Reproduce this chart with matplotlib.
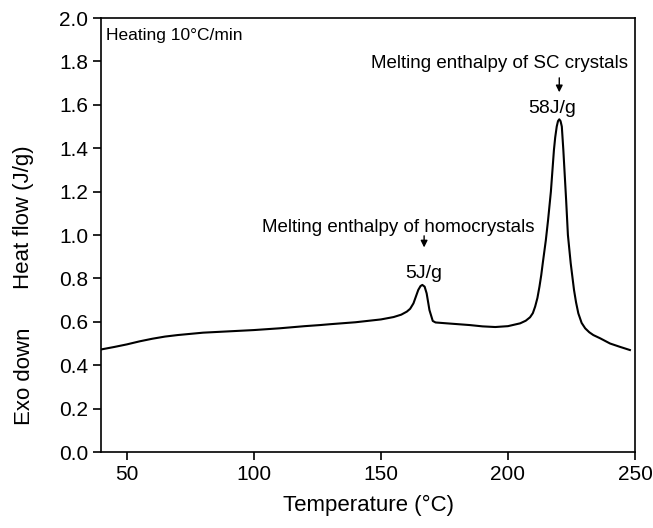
import numpy as np
import matplotlib.pyplot as plt

plt.rcParams['font.family'] = ['Liberation Sans', 'DejaVu Sans']

# DSC heating curve
temperature = [40, 45, 50, 55, 60, 65, 70, 80, 90, 100,
               110, 120, 126, 130, 140, 150, 155, 158, 160.2, 161.5,
               162.8, 164.7, 165.6, 166.3, 167.2, 168, 169.1, 170.4, 171.5, 175.9,
               185, 190, 195, 200, 204.8, 207, 208.7, 209.8, 210.7, 211.6,
               212.4, 213.1, 213.7, 214.9, 215.8, 216.9, 218.1, 218.6, 219.2, 219.7,
               220.2, 220.7, 221.2, 221.8, 222.9, 223.6, 224.7, 226, 226.8, 227.7,
               229, 230.4, 232, 233.6, 236.3, 240.2, 244, 248]
heat_flow = [0.473, 0.484, 0.496, 0.51, 0.522, 0.532, 0.539, 0.55, 0.556, 0.562,
             0.57, 0.58, 0.585, 0.589, 0.598, 0.611, 0.622, 0.633, 0.647, 0.660,
             0.685, 0.747, 0.765, 0.77, 0.762, 0.731, 0.654, 0.604, 0.597, 0.593,
             0.585, 0.579, 0.576, 0.580, 0.593, 0.605, 0.621, 0.64, 0.670, 0.71,
             0.762, 0.815, 0.87, 0.975, 1.07, 1.2, 1.392, 1.45, 1.5, 1.525,
             1.533, 1.525, 1.5, 1.392, 1.161, 1.0, 0.87, 0.747, 0.69, 0.639,
             0.595, 0.57, 0.552, 0.539, 0.524, 0.50, 0.485, 0.47]

x_ticks = [50, 100, 150, 200, 250]
y_ticks = np.arange(0, 2.01, 0.2)

fig = plt.figure(figsize=(6.53, 5.28), dpi=100)
ax = fig.add_axes([0.1554, 0.1439, 0.817, 0.822])

ax.plot(temperature, heat_flow, color='black', lw=1.5)

ax.set_xlim(40, 250)
ax.set_ylim(0, 2.0)
ax.set_xticks(x_ticks)
ax.set_yticks(y_ticks)
ax.set_yticklabels(['%.1f' % v for v in y_ticks])
ax.tick_params(direction='out', length=6, width=1.2, labelsize=15, top=False, right=False)
for s in ax.spines.values():
    s.set_linewidth(1.2)

ax.set_xlabel('Temperature (°C)', fontsize=16, labelpad=8)
fig.text(24 / 653, 1 - 217 / 528, 'Heat flow (J/g)', rotation=90, fontsize=16,
         ha='center', va='center')
fig.text(24 / 653, 1 - 376 / 528, 'Exo down', rotation=90, fontsize=16,
         ha='center', va='center')

ax.text(41.8, 1.899, 'Heating 10°C/min', fontsize=12.5, ha='left', va='baseline')

# SC crystal peak
ax.text(196.5, 1.768, 'Melting enthalpy of SC crystals', fontsize=13.5,
        ha='center', va='baseline')
ax.annotate('', xy=(220.2, 1.645), xytext=(220.2, 1.737),
            arrowprops=dict(arrowstyle='-|>', color='black', lw=1, mutation_scale=10))
ax.text(217.6, 1.561, '58J/g', fontsize=14, ha='center', va='baseline')

# homocrystal peak
ax.text(156.9, 1.015, 'Melting enthalpy of homocrystals', fontsize=13.5,
        ha='center', va='baseline')
ax.annotate('', xy=(167, 0.93), xytext=(167, 1.009),
            arrowprops=dict(arrowstyle='-|>', color='black', lw=1, mutation_scale=10))
ax.text(166.8, 0.80, '5J/g', fontsize=14, ha='center', va='baseline')

fig.savefig('out.png', dpi=100)
